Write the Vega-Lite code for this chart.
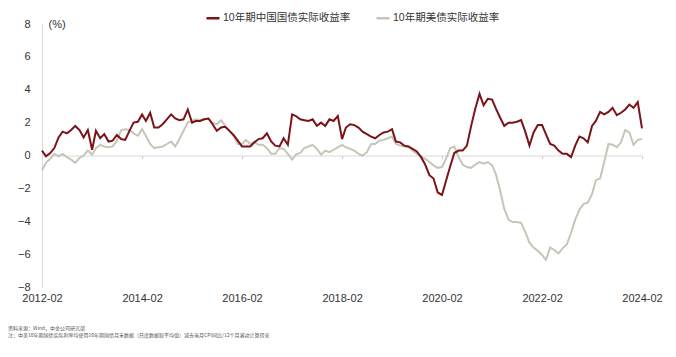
{
  "$schema": "https://vega.github.io/schema/vega-lite/v6.json",
  "width": 600,
  "height": 263,
  "autosize": {"type": "none"},
  "padding": {"left": 42, "top": 24, "right": 34, "bottom": 70},
  "background": "white",
  "config": {"view": {"stroke": null}, "font": "Liberation Sans, Noto Sans CJK SC"},
  "title": {
    "text": ["资料来源：Wind，中金公司研究部", "注：中美10年期国债实际利率均使用10年期国债月末数据（日度数据取平均值）减去当月CPI同比/12个月滚动计算得来"],
    "orient": "bottom", "anchor": "start", "frame": "group", "fontSize": 5, "fontWeight": "normal",
    "color": "#555", "font": "Noto Sans CJK SC", "offset": 23, "dx": -34, "lineHeight": 7
  },
  "data": {"values": [
    {"date":"2012/02/01","cn":0.3,"us":-0.9},{"date":"2012/03/01","cn":-0.05,"us":-0.45},{"date":"2012/04/01","cn":0.15,"us":-0.2},{"date":"2012/05/01","cn":0.45,"us":0.1},{"date":"2012/06/01","cn":1.1,"us":-0.05},{"date":"2012/07/01","cn":1.45,"us":0.1},{"date":"2012/08/01","cn":1.35,"us":-0.1},{"date":"2012/09/01","cn":1.55,"us":-0.25},{"date":"2012/10/01","cn":1.8,"us":-0.45},{"date":"2012/11/01","cn":1.55,"us":-0.15},{"date":"2012/12/01","cn":1.1,"us":0.0},
    {"date":"2013/01/01","cn":1.55,"us":0.3},{"date":"2013/02/01","cn":0.35,"us":0.05},{"date":"2013/03/01","cn":1.5,"us":0.45},{"date":"2013/04/01","cn":1.05,"us":0.65},{"date":"2013/05/01","cn":1.3,"us":0.55},{"date":"2013/06/01","cn":0.85,"us":0.5},{"date":"2013/07/01","cn":0.9,"us":0.55},{"date":"2013/08/01","cn":1.25,"us":0.9},{"date":"2013/09/01","cn":1.0,"us":1.55},{"date":"2013/10/01","cn":0.95,"us":1.6},{"date":"2013/11/01","cn":1.5,"us":1.55},{"date":"2013/12/01","cn":2.0,"us":1.35},
    {"date":"2014/01/01","cn":2.05,"us":1.2},{"date":"2014/02/01","cn":2.5,"us":1.6},{"date":"2014/03/01","cn":2.1,"us":1.2},{"date":"2014/04/01","cn":2.6,"us":0.7},{"date":"2014/05/01","cn":1.7,"us":0.45},{"date":"2014/06/01","cn":1.7,"us":0.5},{"date":"2014/07/01","cn":1.9,"us":0.55},{"date":"2014/08/01","cn":2.2,"us":0.7},{"date":"2014/09/01","cn":2.5,"us":0.85},{"date":"2014/10/01","cn":2.25,"us":0.55},{"date":"2014/11/01","cn":2.15,"us":1.0},{"date":"2014/12/01","cn":2.2,"us":1.5},
    {"date":"2015/01/01","cn":2.8,"us":2.0},{"date":"2015/02/01","cn":2.0,"us":2.1},{"date":"2015/03/01","cn":2.1,"us":2.2},{"date":"2015/04/01","cn":2.1,"us":2.15},{"date":"2015/05/01","cn":2.2,"us":2.2},{"date":"2015/06/01","cn":2.25,"us":2.25},{"date":"2015/07/01","cn":1.9,"us":2.0},{"date":"2015/08/01","cn":1.5,"us":1.9},{"date":"2015/09/01","cn":1.7,"us":2.15},{"date":"2015/10/01","cn":1.75,"us":1.8},{"date":"2015/11/01","cn":1.5,"us":1.5},{"date":"2015/12/01","cn":1.25,"us":1.2},
    {"date":"2016/01/01","cn":0.9,"us":0.7},{"date":"2016/02/01","cn":0.55,"us":0.7},{"date":"2016/03/01","cn":0.55,"us":0.95},{"date":"2016/04/01","cn":0.55,"us":0.7},{"date":"2016/05/01","cn":0.8,"us":0.8},{"date":"2016/06/01","cn":1.0,"us":0.65},{"date":"2016/07/01","cn":1.05,"us":0.65},{"date":"2016/08/01","cn":1.35,"us":0.45},{"date":"2016/09/01","cn":0.85,"us":0.1},{"date":"2016/10/01","cn":0.6,"us":0.1},{"date":"2016/11/01","cn":0.55,"us":0.45},{"date":"2016/12/01","cn":1.05,"us":0.4},
    {"date":"2017/01/01","cn":0.65,"us":0.1},{"date":"2017/02/01","cn":2.5,"us":-0.25},{"date":"2017/03/01","cn":2.4,"us":0.05},{"date":"2017/04/01","cn":2.2,"us":0.15},{"date":"2017/05/01","cn":2.15,"us":0.45},{"date":"2017/06/01","cn":2.1,"us":0.55},{"date":"2017/07/01","cn":2.2,"us":0.65},{"date":"2017/08/01","cn":1.8,"us":0.4},{"date":"2017/09/01","cn":2.0,"us":0.05},{"date":"2017/10/01","cn":1.8,"us":0.3},{"date":"2017/11/01","cn":2.2,"us":0.2},{"date":"2017/12/01","cn":2.1,"us":0.35},
    {"date":"2018/01/01","cn":2.4,"us":0.5},{"date":"2018/02/01","cn":1.0,"us":0.65},{"date":"2018/03/01","cn":1.7,"us":0.5},{"date":"2018/04/01","cn":1.9,"us":0.4},{"date":"2018/05/01","cn":1.85,"us":0.3},{"date":"2018/06/01","cn":1.7,"us":0.1},{"date":"2018/07/01","cn":1.45,"us":0.0},{"date":"2018/08/01","cn":1.3,"us":0.2},{"date":"2018/09/01","cn":1.15,"us":0.7},{"date":"2018/10/01","cn":1.05,"us":0.7},{"date":"2018/11/01","cn":1.25,"us":0.9},{"date":"2018/12/01","cn":1.4,"us":0.95},
    {"date":"2019/01/01","cn":1.45,"us":1.05},{"date":"2019/02/01","cn":1.6,"us":1.15},{"date":"2019/03/01","cn":0.85,"us":0.7},{"date":"2019/04/01","cn":0.8,"us":0.6},{"date":"2019/05/01","cn":0.6,"us":0.55},{"date":"2019/06/01","cn":0.55,"us":0.5},{"date":"2019/07/01","cn":0.4,"us":0.3},{"date":"2019/08/01","cn":0.25,"us":0.1},{"date":"2019/09/01","cn":-0.1,"us":-0.05},{"date":"2019/10/01","cn":-0.55,"us":-0.2},{"date":"2019/11/01","cn":-1.2,"us":-0.4},{"date":"2019/12/01","cn":-1.4,"us":-0.6},
    {"date":"2020/01/01","cn":-2.25,"us":-0.75},{"date":"2020/02/01","cn":-2.4,"us":-0.7},{"date":"2020/03/01","cn":-1.55,"us":-0.2},{"date":"2020/04/01","cn":-0.65,"us":0.45},{"date":"2020/05/01","cn":0.15,"us":0.55},{"date":"2020/06/01","cn":0.3,"us":-0.1},{"date":"2020/07/01","cn":0.3,"us":-0.55},{"date":"2020/08/01","cn":0.6,"us":-0.7},{"date":"2020/09/01","cn":1.8,"us":-0.75},{"date":"2020/10/01","cn":2.85,"us":-0.55},{"date":"2020/11/01","cn":3.75,"us":-0.4},{"date":"2020/12/01","cn":3.05,"us":-0.5},
    {"date":"2021/01/01","cn":3.45,"us":-0.4},{"date":"2021/02/01","cn":3.4,"us":-0.6},{"date":"2021/03/01","cn":2.85,"us":-1.15},{"date":"2021/04/01","cn":2.3,"us":-2.15},{"date":"2021/05/01","cn":1.8,"us":-3.25},{"date":"2021/06/01","cn":2.0,"us":-3.9},{"date":"2021/07/01","cn":2.0,"us":-4.05},{"date":"2021/08/01","cn":2.05,"us":-4.05},{"date":"2021/09/01","cn":2.15,"us":-4.1},{"date":"2021/10/01","cn":1.45,"us":-4.65},{"date":"2021/11/01","cn":0.6,"us":-5.3},{"date":"2021/12/01","cn":1.4,"us":-5.6},
    {"date":"2022/01/01","cn":1.85,"us":-5.8},{"date":"2022/02/01","cn":1.85,"us":-6.05},{"date":"2022/03/01","cn":1.3,"us":-6.35},{"date":"2022/04/01","cn":0.7,"us":-5.6},{"date":"2022/05/01","cn":0.6,"us":-5.75},{"date":"2022/06/01","cn":0.3,"us":-5.95},{"date":"2022/07/01","cn":0.1,"us":-5.65},{"date":"2022/08/01","cn":0.1,"us":-5.4},{"date":"2022/09/01","cn":-0.1,"us":-4.7},{"date":"2022/10/01","cn":0.6,"us":-3.9},{"date":"2022/11/01","cn":1.15,"us":-3.3},{"date":"2022/12/01","cn":1.05,"us":-2.95},
    {"date":"2023/01/01","cn":0.8,"us":-2.85},{"date":"2023/02/01","cn":1.8,"us":-2.35},{"date":"2023/03/01","cn":2.1,"us":-1.5},{"date":"2023/04/01","cn":2.65,"us":-1.4},{"date":"2023/05/01","cn":2.5,"us":-0.4},{"date":"2023/06/01","cn":2.65,"us":0.7},{"date":"2023/07/01","cn":2.9,"us":0.65},{"date":"2023/08/01","cn":2.45,"us":0.5},{"date":"2023/09/01","cn":2.6,"us":0.8},{"date":"2023/10/01","cn":2.8,"us":1.55},{"date":"2023/11/01","cn":3.1,"us":1.4},{"date":"2023/12/01","cn":2.9,"us":0.65},
    {"date":"2024/01/01","cn":3.25,"us":0.95},{"date":"2024/02/01","cn":1.65,"us":1.0}
  ]},
  "transform": [{"fold": ["cn", "us"], "as": ["series", "value"]}],
  "encoding": {
    "x": {
      "field": "date", "type": "temporal",
      "scale": {"domain": [{"year": 2012, "month": 2, "date": 1}, {"year": 2024, "month": 2, "date": 1}]},
      "axis": {
        "title": null, "format": "%Y-%m",
        "values": [{"year": 2012, "month": 2, "date": 1}, {"year": 2014, "month": 2, "date": 1}, {"year": 2016, "month": 2, "date": 1}, {"year": 2018, "month": 2, "date": 1}, {"year": 2020, "month": 2, "date": 1}, {"year": 2022, "month": 2, "date": 1}, {"year": 2024, "month": 2, "date": 1}],
        "offset": -131.5, "domainColor": "#d9d9d9", "tickColor": "#c8c8c8", "tickSize": 3,
        "labelPadding": 133.5, "labelFontSize": 11, "labelColor": "#333", "grid": false, "labelFlush": false
      }
    },
    "y": {
      "field": "value", "type": "quantitative",
      "scale": {"domain": [-8, 8], "nice": false},
      "axis": {
        "values": [-8, -6, -4, -2, 0, 2, 4, 6, 8],
        "title": "(%)", "titleAngle": 0, "titleX": 6, "titleY": 0, "titleAlign": "left", "titleBaseline": "middle",
        "titleFontSize": 11, "titleFontWeight": "normal", "titleColor": "#333",
        "domainColor": "#d9d9d9", "ticks": false, "labelPadding": 12, "labelFontSize": 11, "labelColor": "#333", "grid": false
      }
    },
    "color": {
      "field": "series", "type": "nominal",
      "scale": {"domain": ["cn", "us"], "range": ["#7a1418", "#c6c6b8"]},
      "legend": {
        "orient": "none", "legendX": 163, "legendY": -14, "direction": "horizontal", "title": null,
        "symbolType": "stroke", "symbolStrokeWidth": 2.5, "symbolSize": 170, "labelFontSize": 10.5, "labelColor": "#333",
        "columnPadding": 20, "labelOffset": 2,
        "labelExpr": "datum.label == 'cn' ? '10年期中国国债实际收益率' : '10年期美债实际收益率'"
      }
    }
  },
  "layer": [
    {"transform": [{"filter": "datum.series == 'us'"}], "mark": {"type": "line", "strokeWidth": 2}},
    {"transform": [{"filter": "datum.series == 'cn'"}], "mark": {"type": "line", "strokeWidth": 2}}
  ]
}
